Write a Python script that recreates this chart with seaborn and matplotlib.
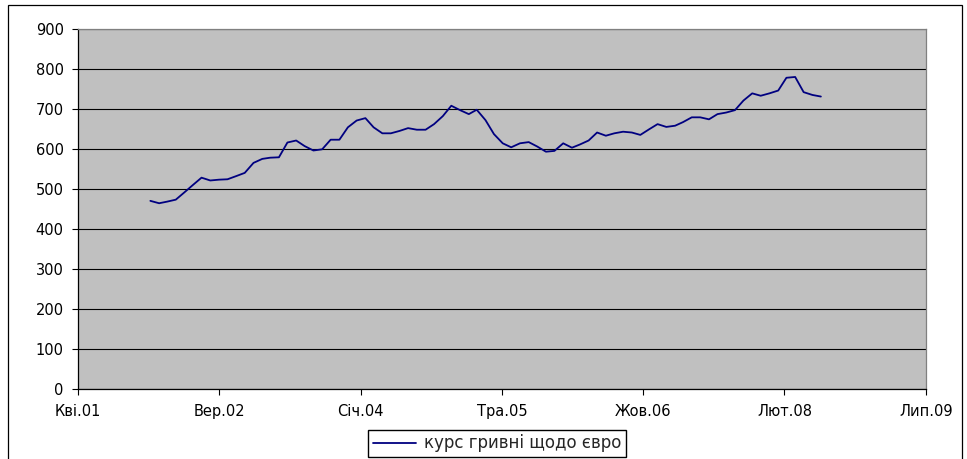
import datetime as dt

import matplotlib
matplotlib.use("Agg")
import matplotlib.dates as mdates
import matplotlib.pyplot as plt
import matplotlib.patches as mpatches
from matplotlib.ticker import FuncFormatter
import pandas as pd
import seaborn as sns

# Monthly UAH/EUR rate (hryvnias per 100 euro), January 2002 – July 2008
first_month = "2002-01"
rate_2002 = [470, 464, 468, 473, 491, 510, 528, 521, 523, 524, 532, 540]
rate_2003 = [565, 575, 578, 579, 616, 621, 607, 596, 599, 623, 623, 654]
rate_2004 = [671, 677, 654, 639, 639, 645, 652, 648, 648, 662, 682, 708]
rate_2005 = [697, 687, 698, 672, 637, 614, 604, 614, 617, 606, 593, 595]
rate_2006 = [614, 603, 611, 621, 641, 633, 639, 643, 641, 635, 649, 662]
rate_2007 = [655, 658, 667, 679, 679, 674, 687, 691, 697, 721, 739, 733]
rate_2008 = [739, 746, 778, 780, 742, 735, 731]

series_label = "курс гривні щодо євро"
month_abbr = ["Січ", "Лют", "Бер", "Кві", "Тра", "Чер",
              "Лип", "Сер", "Вер", "Жов", "Лис", "Гру"]
y_ticks = [0, 100, 200, 300, 400, 500, 600, 700, 800, 900]

rates = rate_2002 + rate_2003 + rate_2004 + rate_2005 + rate_2006 + rate_2007 + rate_2008
df = pd.DataFrame({
    "date": pd.date_range(first_month, periods=len(rates), freq="MS"),
    "rate": rates,
})

sns.set_theme(style="white")
plt.rcParams["font.family"] = ["DejaVu Sans"]

fig = plt.figure(figsize=(9.67, 4.59), dpi=100)
ax = fig.add_axes([0.0807, 0.1532, 0.8766, 0.7836])
ax.set_facecolor("#C0C0C0")

sns.lineplot(data=df, x="date", y="rate", ax=ax, color="#000080",
             linewidth=1.3, label=series_label, legend=False)

# date axis: 500-day major unit
x_start = dt.datetime(2001, 4, 20)
x_end = x_start + dt.timedelta(days=3000)
ax.set_xlim(x_start, x_end)
ax.xaxis.set_major_locator(
    matplotlib.ticker.FixedLocator(
        [mdates.date2num(x_start + dt.timedelta(days=500 * i)) for i in range(7)]))


def ua_month(x, pos=None):
    d = mdates.num2date(x)
    return f"{month_abbr[d.month - 1]}.{d.year % 100:02d}"


ax.xaxis.set_major_formatter(FuncFormatter(ua_month))

ax.set_ylim(y_ticks[0], y_ticks[-1])
ax.set_yticks(y_ticks)
ax.yaxis.grid(True, color="black", linewidth=0.8)
ax.xaxis.grid(False)
ax.set_axisbelow(True)
ax.set_xlabel("")
ax.set_ylabel("")

ax.tick_params(axis="both", which="major", direction="out", length=4.3,
               width=0.8, color="black", labelsize=10.5, labelcolor="black")
ax.tick_params(axis="y", pad=6)
ax.tick_params(axis="x", pad=7)
ax.tick_params(left=True, bottom=True)

for side in ("left", "bottom"):
    ax.spines[side].set_color("black")
    ax.spines[side].set_linewidth(0.9)
for side in ("top", "right"):
    ax.spines[side].set_color("#808080")
    ax.spines[side].set_linewidth(0.9)

# chart area frame
fig.patches.append(mpatches.Rectangle(
    (8 / 967, -0.02), (962 - 8) / 967, (459 - 5) / 459 + 0.02,
    transform=fig.transFigure, fill=False, edgecolor="black", linewidth=0.9))

handles, labels = ax.get_legend_handles_labels()
fig.legend(handles, labels, loc="center", bbox_to_anchor=(0.514, 0.034),
           frameon=True, fancybox=False, edgecolor="black", framealpha=1,
           fontsize=12, handlelength=2.6, borderpad=0.25, handletextpad=0.5)

fig.savefig("out.png", dpi=100, facecolor="white")
